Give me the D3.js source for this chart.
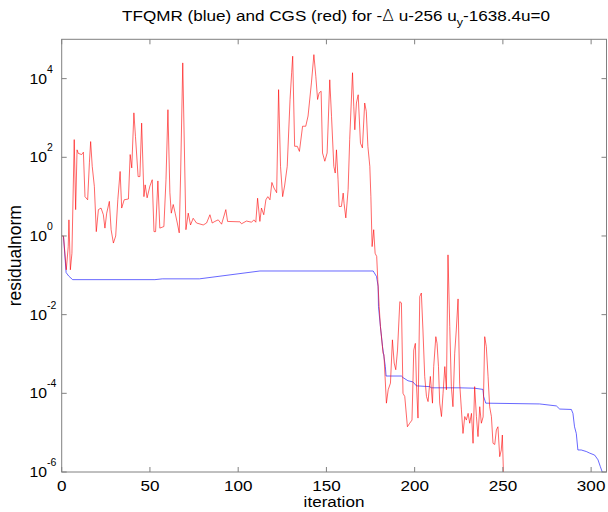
<!DOCTYPE html>
<html>
<head>
<meta charset="utf-8">
<script src="https://cdn.jsdelivr.net/npm/d3@7"></script>
<style>
  body { margin: 0; background: #fff; }
  svg { display: block; font-family: "Liberation Sans", Arial, sans-serif; }
</style>
</head>
<body>
<div id="chart"></div>
<script>
// residual history (log10 of the residual norm)
const cgsIter = [0, 1, 2.6, 3.7, 4.1, 4.9, 5.8, 7.1, 7.9, 8.7, 9.4, 11.3, 12.3, 13.2, 14.7, 15.7, 16.4, 17.3, 18.5, 19.6,
  20.8, 22.3, 23.6, 24.5, 25.5, 27, 28, 29.3, 30.6, 31.8, 33.1, 34, 35.4, 37.8, 38.8, 39.7, 40.9, 41.8, 43.3, 44.3,
  45.3, 46.6, 47.3, 48.4, 50, 51.3, 52.3, 53.2, 54.5, 55.6, 57.9, 59.1, 60.2, 61.3, 62.1, 63.2, 64.3, 65.5, 66.6, 67.4,
  68.6, 70.4, 71.7, 73, 74.5, 76.4, 80.2, 82.1, 84, 85.3, 86.8, 88.7, 90.6, 93, 94, 101, 101.9, 104.7, 107.6, 108.9,
  110, 111, 112.3, 113.2, 114.5, 115.7, 116.8, 118, 119.1, 120.3, 121.8, 122.9, 124, 125.2, 126.3, 127.8, 129.4, 130.3, 130.9, 132,
  133.5, 134.7, 136.5, 138.3, 139.6, 141.5, 142.9, 144, 145, 145.9, 147, 147.8, 149.1, 150.4, 151.9, 152.9, 154.2, 155, 155.7, 156.6,
  157.2, 158.5, 159.5, 160, 161, 162.3, 163.2, 164.8, 165.5, 166.1, 167, 168, 169.3, 170.4, 171.7, 172.6, 173.5, 174.6, 175.2, 175.9,
  176.8, 177.6, 178.5, 179.1, 179.9, 180.6, 181.2, 182.1, 182.6, 184, 185, 186.3, 187.4, 188.4, 189.3, 190.3, 191.6, 192.5, 193.4, 194.4,
  195.9, 197.2, 198.5, 199.5, 200.4, 201, 201.9, 202.9, 203.8, 204.7, 205.7, 206.7, 207.6, 208.9, 210.1, 210.8, 212, 212.7, 213.5, 214.2,
  215.2, 216.1, 217.1, 218, 218.9, 219.9, 220.8, 221.7, 222.7, 223.6, 224.6, 225.5, 226.5, 227.4, 228.4, 229.3, 230.3, 231.2, 232.2, 233.1,
  234, 235, 235.9, 236.9, 237.8, 238.8, 239.7, 240.6, 241.6, 242.5, 243.5, 244.4, 245.4, 246.3, 247.2, 248.2, 249.1, 249.7, 250.5];
const cgsLog = [0, 0, -0.86, -0.27, 0.41, -0.86, -0.44, 2.45, 0.67, 2.19, 2.1, 2.07, 2.13, 1.0, 0.92, 1.86, 2.4, 1.77, 1.26, 0.11,
  0.67, 0.71, 0.54, 0.2, 0.58, 0.88, 0.16, -0.18, 0, 0.92, 1.64, 0.71, 0.92, 0.94, 2.07, 1.73, 3.13, 2.53, 1.51, 1.51,
  2.87, 1.0, 1.3, 0.97, 1.27, 1.43, 0.11, 0.11, 1.4, 0.2, 0.24, 1.43, 3.21, 1.1, 0.58, 0.8, 0.58, 0.33, 0.08, 1.6,
  4.4, 0.16, 0.58, 0.28, 0.45, 0.33, 0.28, 0.33, 0.54, 0.33, 0.37, 0.41, 0.3, 0.67, 0.37, 0.36, 0.31, 0.38, 0.35, 0.41,
  0.35, 0.96, 0.37, 0.71, 0.54, 0.92, 1.0, 0.92, 1.36, 1.22, 1.1, 3.72, 1.77, 1.0, 1.27, 1.77, 3.47, 4.15, 4.57, 2.28,
  2.28, 2.15, 2.79, 2.79, 3.05, 3.89, 4.61, 4.06, 3.47, 3.64, 3.68, 2.11, 1.9, 2.11, 3.97, 3.04, 1.77, 1.6, 2.19, 1.43,
  0.75, 0.75, 1.09, 0.83, 0.46, 1.18, 2.45, 4.15, 3.3, 2.7, 3.38, 3.59, 2.36, 2.24, 3.38, 3.17, 2.28, 1.77, 1.0, -0.27,
  0.16, -0.44, -0.52, -1.11, -1.79, -2.3, -2.56, -2.98, -3.02, -4.25, -3.91, -3.74, -2.64, -3.23, -3.4, -2.9, -1.67, -1.7, -4.0, -4.08,
  -4.85, -4.76, -4.68, -2.9, -2.73, -3.74, -4.63, -1.54, -1.45, -2.39, -3.57, -4.08, -4.21, -3.57, -4.25, -3.32, -2.56, -2.73, -3.32, -4.25,
  -4.59, -4.0, -3.32, -3.91, -0.48, -2.3, -3.83, -4.34, -2.98, -2.39, -1.6, -3.74, -4.42, -5.02, -4.59, -4.68, -4.51, -4.76, -4.51, -5.27,
  -3.83, -4.59, -5.1, -4.34, -4.76, -4.6, -2.56, -2.81, -3.57, -4.34, -4.59, -5.27, -5.3, -4.93, -4.85, -5.61, -5.44, -5.06, -6.3];

const tfqmrIter = [1, 2.5, 4, 6.2, 52.8, 57, 78, 112.3, 176.5, 178.4, 179.3, 179.5, 180.6, 181.8, 182.6, 183.4, 183.8, 192.5, 193.4, 196.2,
  199, 201, 208.5, 209.5, 225.5, 234, 238.7, 239.1, 240.3, 270.8, 272.7, 280.3, 282.2, 288.8, 289.7, 290.6, 291.6, 292.5, 294.4, 297.3,
  299.2, 302, 303.9, 305.2, 306.3, 307];
const tfqmrLog = [0, -0.93, -1.02, -1.11, -1.11, -1.09, -1.09, -0.89, -0.89, -1.03, -1.28, -1.79, -2.3, -2.81, -3.07, -3.32, -3.56, -3.56, -3.6, -3.68,
  -3.71, -3.81, -3.83, -3.86, -3.86, -3.87, -3.9, -4.08, -4.25, -4.27, -4.28, -4.32, -4.4, -4.41, -4.51, -4.85, -5.02, -5.44, -5.44, -5.48,
  -5.52, -5.57, -5.69, -5.86, -6.0, -6.2];

const xTicks = [0, 50, 100, 150, 200, 250, 300];
const yTickExp = [-6, -4, -2, 0, 2, 4];

const width = 608, height = 512;
const margin = { left: 61.7, right: 1, top: 39.3, bottom: 40 };
const axisColor = '#808080';
const stretch = 1.14; // the reference text is a bit wider than Arial

const svg = d3.select('#chart').append('svg')
  .attr('width', width).attr('height', height);

const x = d3.scaleLinear().domain([0, 309]).range([margin.left, width - margin.right]);
const y = d3.scaleLog().domain([1e-6, 1e5]).range([height - margin.bottom, margin.top]);

svg.append('clipPath').attr('id', 'plot-clip')
  .append('rect')
  .attr('x', x(0)).attr('y', y(1e5))
  .attr('width', x(309) - x(0)).attr('height', y(1e-6) - y(1e5));

const line = d3.line()
  .x(d => x(d[0]))
  .y(d => y(Math.pow(10, d[1])));

const tfqmr = tfqmrIter.map((t, i) => [t, tfqmrLog[i]]);
const cgs = cgsIter.map((t, i) => [t, cgsLog[i]]);

const plot = svg.append('g').attr('clip-path', 'url(#plot-clip)');
plot.append('path').datum(tfqmr)
  .attr('d', line).attr('fill', 'none')
  .attr('stroke', '#0000ff').attr('stroke-width', 0.8).attr('stroke-opacity', 0.75);
plot.append('path').datum(cgs)
  .attr('d', line).attr('fill', 'none')
  .attr('stroke', '#ff0000').attr('stroke-width', 0.8).attr('stroke-opacity', 0.75);

// box with inward ticks on all sides
const tickLen = 5;
const box = svg.append('g').attr('stroke', axisColor).attr('fill', 'none');
box.append('rect')
  .attr('x', x(0)).attr('y', y(1e5))
  .attr('width', x(309) - x(0) - 0.5).attr('height', y(1e-6) - y(1e5));

xTicks.forEach(t => {
  box.append('line').attr('x1', x(t)).attr('x2', x(t))
    .attr('y1', y(1e-6)).attr('y2', y(1e-6) - tickLen);
  box.append('line').attr('x1', x(t)).attr('x2', x(t))
    .attr('y1', y(1e5)).attr('y2', y(1e5) + tickLen);
});
yTickExp.forEach(e => {
  box.append('line').attr('x1', x(0)).attr('x2', x(0) + tickLen)
    .attr('y1', y(Math.pow(10, e))).attr('y2', y(Math.pow(10, e)));
  box.append('line').attr('x1', x(309) - 0.5).attr('x2', x(309) - 0.5 - tickLen)
    .attr('y1', y(Math.pow(10, e))).attr('y2', y(Math.pow(10, e)));
});

// tick labels
svg.append('g').selectAll('text').data(xTicks).join('text')
  .attr('transform', d => `translate(${x(d)},${y(1e-6) + 19}) scale(${stretch},1)`)
  .attr('text-anchor', 'middle').attr('font-size', 15)
  .text(d => d);

const yLab = svg.append('g').selectAll('text').data(yTickExp).join('text')
  .attr('transform', d => `translate(29.5,${y(Math.pow(10, d)) + 5}) scale(1.05,1)`)
  .attr('font-size', 15);
yLab.append('tspan').text('10');
yLab.append('tspan').attr('font-size', 10).attr('dy', -11).text(d => d);

// titles
const title = svg.append('text')
  .attr('transform', `translate(336,21) scale(${stretch},1)`)
  .attr('text-anchor', 'middle').attr('font-size', 15);
title.append('tspan').text('TFQMR (blue) and CGS (red) for -');
title.append('tspan').attr('font-family', 'DejaVu Sans').attr('font-weight', 200).text('\u0394');
title.append('tspan').text(' u-256 u');
title.append('tspan').attr('font-size', 11).attr('dy', 5).text('y');
title.append('tspan').attr('dy', -5).text('-1638.4u=0');

svg.append('text')
  .attr('transform', `translate(334,507) scale(${stretch},1)`)
  .attr('text-anchor', 'middle').attr('font-size', 15)
  .text('iteration');

svg.append('text')
  .attr('transform', `translate(21,${(y(1e-6) + y(1e5)) / 2}) rotate(-90)`)
  .attr('text-anchor', 'middle').attr('font-size', 17.5)
  .text('residualnorm');
</script>
</body>
</html>
